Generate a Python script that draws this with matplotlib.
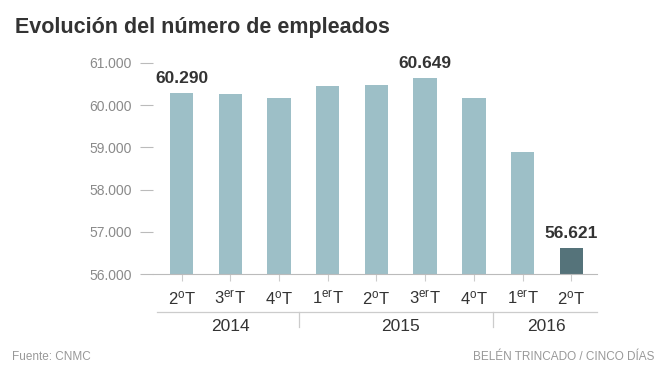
import matplotlib
matplotlib.use("Agg")
import matplotlib.pyplot as plt
from matplotlib.ticker import FuncFormatter
import matplotlib.transforms as mtransforms

plt.rcParams['font.family'] = ['Liberation Sans', 'DejaVu Sans']
plt.rcParams['mathtext.fontset'] = 'custom'
plt.rcParams['mathtext.rm'] = 'Liberation Sans'
plt.rcParams['mathtext.it'] = 'Liberation Sans'

# datos (empleados por trimestre)
quarters = [r"2$^{\mathrm{o}}$T", r"3$^{\mathrm{er}}$T", r"4$^{\mathrm{o}}$T",
            r"1$^{\mathrm{er}}$T", r"2$^{\mathrm{o}}$T", r"3$^{\mathrm{er}}$T",
            r"4$^{\mathrm{o}}$T", r"1$^{\mathrm{er}}$T", r"2$^{\mathrm{o}}$T"]
employees = [60290, 60260, 60180, 60460, 60480, 60649, 60180, 58900, 56621]
years = ["2014", "2015", "2016"]
year_centers = [1, 4.5, 7.5]
year_breaks = [2.4, 6.4]
highlight = {0: "60.290", 5: "60.649", 8: "56.621"}
yticks = [56000, 57000, 58000, 59000, 60000, 61000]

light = "#9dbfc7"
dark = "#55737a"
grey = "#8a8a8a"

fig = plt.figure(figsize=(6.64, 3.77), dpi=100)
ax = fig.add_axes([0.2304, 0.2732, 0.6687, 0.5597])

x = list(range(len(employees)))
colors = [light] * (len(employees) - 1) + [dark]
ax.bar(x, [e - 56000 for e in employees], bottom=56000, width=0.48,
       color=colors, zorder=2)

ax.set_xlim(-0.59, 8.53)
ax.set_ylim(56000, 61000)
ax.set_yticks(yticks)
ax.yaxis.set_major_formatter(FuncFormatter(lambda v, p: f"{v:,.0f}".replace(",", ".")))
ax.tick_params(axis="y", length=9.5, width=0.8, color="#bbbbbb", pad=6,
               labelsize=10, labelcolor=grey)
ax.set_xticks(x)
ax.set_xticklabels([])
ax.tick_params(axis="x", length=5, width=0.8, color="#cccccc")

for s in ["top", "right", "left"]:
    ax.spines[s].set_visible(False)
ax.spines["bottom"].set_color("#bbbbbb")
ax.spines["bottom"].set_linewidth(0.8)

for i, txt in highlight.items():
    ax.annotate(txt, (i, employees[i]), xytext=(0, 5), textcoords="offset points",
                ha="center", va="bottom", fontsize=12.5, fontweight="bold",
                color="#333333")

trans = mtransforms.blended_transform_factory(ax.transData, ax.transAxes)
for i, q in enumerate(quarters):
    ax.text(i, -0.114, q, transform=trans, ha="center", va="center",
            fontsize=12, color="#333333")

ax.plot([-0.5, 8.53], [-0.18, -0.18], transform=trans, color="#cccccc",
        lw=0.9, clip_on=False)
for b in year_breaks:
    ax.plot([b, b], [-0.18, -0.25], transform=trans, color="#cccccc",
            lw=0.9, clip_on=False)
for c, yr in zip(year_centers, years):
    ax.text(c, -0.251, yr, transform=trans, ha="center", va="center",
            fontsize=12.5, color="#333333")

fig.text(0.0226, 0.928, "Evolución del número de empleados", fontsize=15.5,
         fontweight="bold", color="#333333", ha="left", va="center")
fig.text(0.018, 0.053, "Fuente: CNMC", fontsize=8.5, color="#999999",
         ha="left", va="center")
fig.text(0.985, 0.053, "BELÉN TRINCADO / CINCO DÍAS", fontsize=8.5,
         color="#999999", ha="right", va="center")

fig.savefig("out.png", dpi=100)
